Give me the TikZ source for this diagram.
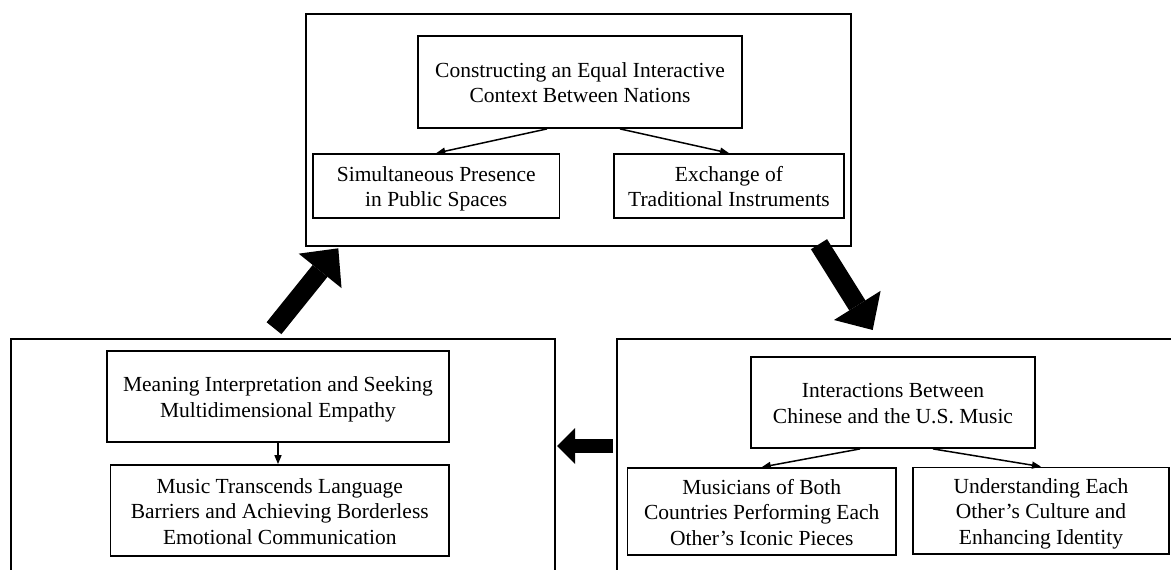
\documentclass[tikz,border=0pt]{standalone}
\usepackage{fontspec}
\setmainfont{Liberation Serif}
\usetikzlibrary{arrows.meta,calc}
% centred multi-line label, set slightly below the middle of its box
\newcommand{\boxtext}[1]{\begin{tabular}{@{}c@{}}\rule{0pt}{24pt}#1\end{tabular}}
\begin{document}
\begin{tikzpicture}[x=1pt,y=-1pt,
  panel/.style={draw, line width=2pt, inner sep=0pt},
  item/.style={draw, line width=1.8pt, inner sep=0pt,
    font=\fontsize{21.5}{25.5}\selectfont},
  link/.style={line width=1.5pt, -{Triangle[length=9pt,width=7pt]}},
  flowarrow/.style={line width=#1, -{Triangle[length=29pt,width=55pt,line width=0pt]}},
]
\useasboundingbox (0,0) rectangle (1171,570);
\clip (0,0) rectangle (1171,570);

% three stage panels
\node[panel, minimum width=545pt, minimum height=232pt] (ptop) at (578.5,130) {};
\node[panel, minimum width=544pt, minimum height=281pt] (pleft) at (283,479.5) {};
\node[panel, minimum width=603pt, minimum height=281pt] (pright) at (918.5,479.5) {};

% top panel
\node[item, minimum width=324pt, minimum height=92pt] (ctx) at (580,82)
  {\boxtext{Constructing an Equal Interactive\\Context Between Nations}};
\node[item, minimum width=246.5pt, minimum height=64pt] (pub) at (436.25,186)
  {\boxtext{Simultaneous Presence\\in Public Spaces}};
\node[item, minimum width=230pt, minimum height=64pt] (inst) at (729,186)
  {\boxtext{Exchange of\\Traditional Instruments}};

% right panel
\node[item, minimum width=284pt, minimum height=91pt] (inter) at (893,402.5)
  {\boxtext{Interactions Between\\Chinese and the U.S. Music}};
\node[item, minimum width=268.5pt, minimum height=87pt] (perf) at (761.75,511.5)
  {\boxtext{Musicians of Both\\Countries Performing Each\\Other’s Iconic Pieces}};
\node[item, minimum width=256pt, minimum height=86.5pt] (ident) at (1041,510.75)
  {\boxtext{Understanding Each\\Other’s Culture and\\Enhancing Identity}};

% left panel
\node[item, minimum width=342pt, minimum height=91pt] (mean) at (278,396.5)
  {\boxtext{Meaning Interpretation and Seeking\\Multidimensional Empathy}};
\node[item, minimum width=338.5pt, minimum height=91pt] (lang) at (279.75,510.5)
  {\boxtext{Music Transcends Language\\Barriers and Achieving Borderless\\Emotional Communication}};

% links inside panels
\draw[link] ($(ctx.south)+(-33,0)$) -- (pub.north);
\draw[link] ($(ctx.south)+(40,0)$) -- (inst.north);
\draw[link] ($(inter.south)+(-33,0)$) -- (perf.north);
\draw[link] ($(inter.south)+(40,0)$) -- (ident.north);
\draw[link] (mean.south) -- (mean.south |- lang.north);

% flow between panels
\coordinate (upTail) at (274,328.2);
\coordinate (upTip) at (338.3,248.3);
\coordinate (dnTail) at (819,244.2);
\coordinate (dnTip) at (872.7,330);
\coordinate (lfTail) at (613,446);
\coordinate (lfTip) at (557,446);
\draw[flowarrow=19pt] (upTail) -- (upTip);
\draw[flowarrow=19pt] (dnTail) -- (dnTip);
\draw[line width=14pt, -{Triangle[length=18pt,width=36pt,line width=0pt]}] (lfTail) -- (lfTip);
\end{tikzpicture}
\end{document}
